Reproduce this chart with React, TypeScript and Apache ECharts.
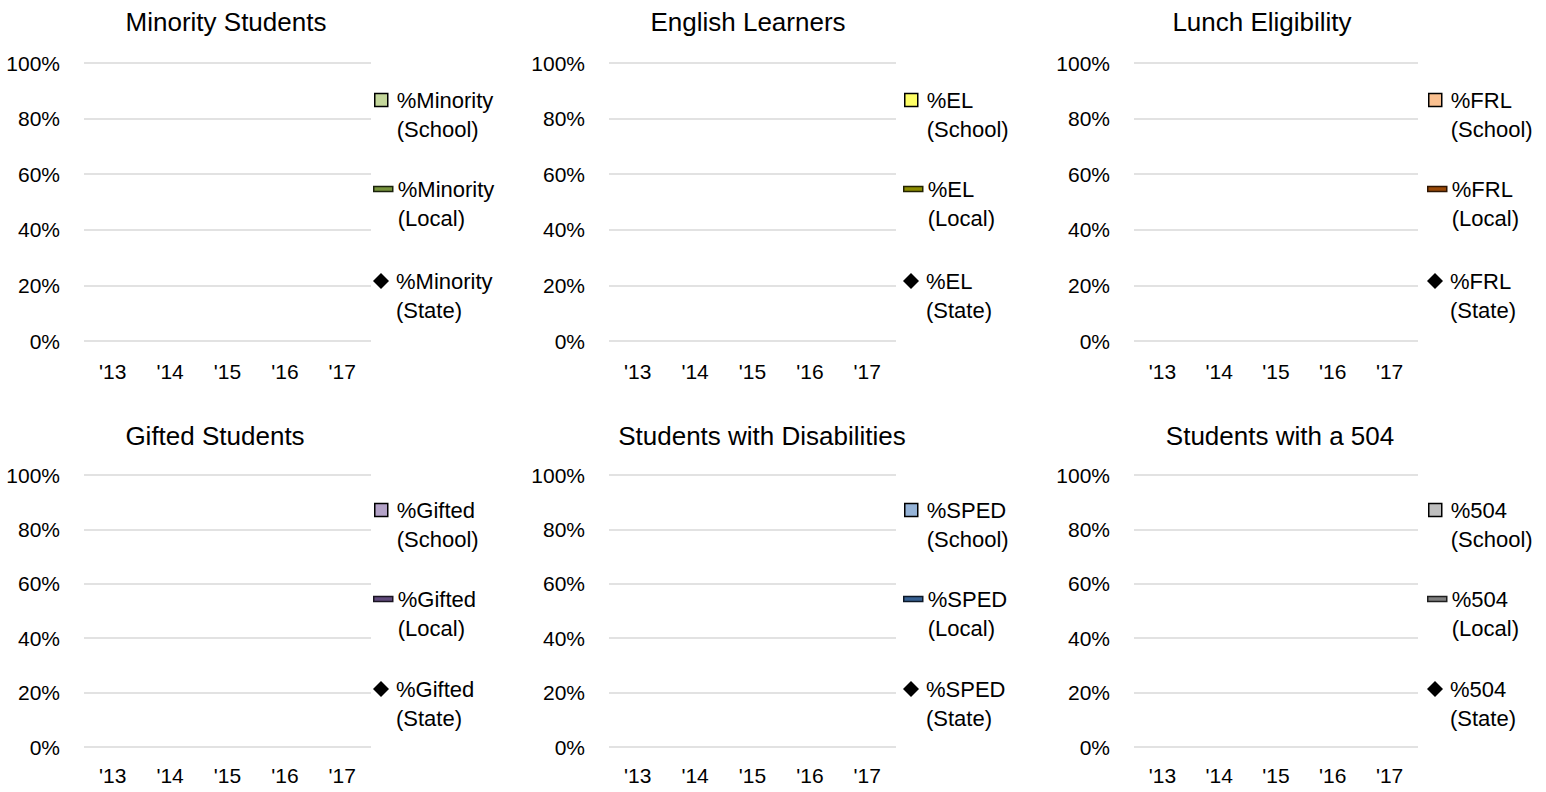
import React, { useEffect, useRef } from "react";
import * as echarts from "echarts";

const years = ["'13", "'14", "'15", "'16", "'17"];

const panelTitles = [
  "Minority Students", "English Learners", "Lunch Eligibility",
  "Gifted Students", "Students with Disabilities", "Students with a 504",
];
const measureNames = ["%Minority", "%EL", "%FRL", "%Gifted", "%SPED", "%504"];
const levelNames = ["(School)", "(Local)", "(State)"];

// No values are shown in the chart: every year is empty
const minoritySchool: (number | null)[] = [null, null, null, null, null];
const minorityLocal: (number | null)[] = [null, null, null, null, null];
const minorityState: (number | null)[] = [null, null, null, null, null];
const elSchool: (number | null)[] = [null, null, null, null, null];
const elLocal: (number | null)[] = [null, null, null, null, null];
const elState: (number | null)[] = [null, null, null, null, null];
const frlSchool: (number | null)[] = [null, null, null, null, null];
const frlLocal: (number | null)[] = [null, null, null, null, null];
const frlState: (number | null)[] = [null, null, null, null, null];
const giftedSchool: (number | null)[] = [null, null, null, null, null];
const giftedLocal: (number | null)[] = [null, null, null, null, null];
const giftedState: (number | null)[] = [null, null, null, null, null];
const spedSchool: (number | null)[] = [null, null, null, null, null];
const spedLocal: (number | null)[] = [null, null, null, null, null];
const spedState: (number | null)[] = [null, null, null, null, null];
const s504School: (number | null)[] = [null, null, null, null, null];
const s504Local: (number | null)[] = [null, null, null, null, null];
const s504State: (number | null)[] = [null, null, null, null, null];

const panelData = [
  [minoritySchool, minorityLocal, minorityState],
  [elSchool, elLocal, elState],
  [frlSchool, frlLocal, frlState],
  [giftedSchool, giftedLocal, giftedState],
  [spedSchool, spedLocal, spedState],
  [s504School, s504Local, s504State],
];

const schoolFill = ["#C4D79B", "#FFFF66", "#FAC090", "#B3A2C7", "#95B3D7", "#BFBFBF"];
const localFill = ["#77933C", "#8C8C00", "#984807", "#604A7B", "#376092", "#7F7F7F"];
const localBorder = ["#1A220C", "#222200", "#2E1502", "#1A1422", "#0C1828", "#1F1F1F"];

const FONT = "'Liberation Sans Narrow', 'Arial Narrow', 'Liberation Sans', Arial, sans-serif";

const gridLeft = [84, 609, 1134];
const gridWidth = [287, 287, 284];
const gridTop = [63, 475];
const gridHeight = [278, 272];
const legendX = [373, 903, 1427];
const legendY = [[100, 189, 281], [510, 599, 689]];
const titleX = [[226, 748, 1262], [215, 762, 1280]];
const titleY = [22, 436];
const xLabelMargin = [20, 18];

export default function App() {
  const ref = useRef<HTMLDivElement>(null);
  useEffect(() => {
    if (!ref.current) return;
    const chart = echarts.init(ref.current, null, { renderer: "svg" });
    const grid: any[] = [];
    const xAxis: any[] = [];
    const yAxis: any[] = [];
    const series: any[] = [];
    const legend: any[] = [];
    const graphic: any[] = [];
    const LH = 29;
    for (let p = 0; p < 6; p++) {
      const r = Math.floor(p / 3);
      const c = p % 3;
      grid.push({ left: gridLeft[c], top: gridTop[r], width: gridWidth[c], height: gridHeight[r], containLabel: false });
      xAxis.push({
        type: "category", gridIndex: p, data: years, boundaryGap: true,
        axisLine: { show: false }, axisTick: { show: false },
        axisLabel: { color: "#000", fontFamily: FONT, fontSize: 21, margin: xLabelMargin[r] },
      });
      yAxis.push({
        type: "value", gridIndex: p, min: 0, max: 1, interval: 0.2,
        axisLine: { show: false }, axisTick: { show: false },
        axisLabel: {
          color: "#000", fontFamily: FONT, fontSize: 21, margin: 24,
          formatter: (v: number) => Math.round(v * 100) + "%",
        },
        splitLine: { show: true, lineStyle: { color: "#D9D9D9", width: 1.5 } },
      });
      const names = levelNames.map((l) => measureNames[p] + " " + l);
      series.push({
        type: "bar", name: names[0], xAxisIndex: p, yAxisIndex: p, data: panelData[p][0],
        itemStyle: { color: schoolFill[p], borderColor: "#000", borderWidth: 1.5 },
      });
      series.push({
        type: "line", name: names[1], xAxisIndex: p, yAxisIndex: p, data: panelData[p][1],
        lineStyle: { color: localFill[p], width: 4 }, itemStyle: { color: localFill[p] }, showSymbol: false,
      });
      series.push({
        type: "line", name: names[2], xAxisIndex: p, yAxisIndex: p, data: panelData[p][2],
        lineStyle: { width: 0 }, symbol: "diamond", symbolSize: 14, itemStyle: { color: "#000" },
      });
      const icons = [
        { icon: "rect", w: 13, h: 13, dx: 1, padL: 4, style: { color: schoolFill[p], borderColor: "#000", borderWidth: 1.5 } },
        { icon: "rect", w: 19, h: 5, dx: 0, padL: 0, style: { color: localFill[p], borderColor: localBorder[p], borderWidth: 1.5 } },
        { icon: "diamond", w: 16, h: 16, dx: 0, padL: 2, style: { color: "#000", borderWidth: 0 } },
      ];
      for (let k = 0; k < 3; k++) {
        const ic = icons[k];
        legend.push({
          show: true, orient: "vertical", padding: 0,
          left: legendX[c] + ic.dx, top: legendY[r][k] - (3 * LH) / 2,
          itemWidth: ic.w, itemHeight: ic.h, selectedMode: false,
          data: [{ name: names[k], icon: ic.icon, itemStyle: ic.style }],
          formatter: (n: string) => "\n" + n.replace(" ", "\n"),
          textStyle: { color: "#000", fontFamily: FONT, fontSize: 22, lineHeight: LH, padding: [0, 0, 0, ic.padL] },
        });
      }
      graphic.push({
        type: "text", x: titleX[r][c], y: titleY[r],
        style: { text: panelTitles[p], fill: "#000", font: `26px ${FONT}`, textAlign: "center", textVerticalAlign: "middle" },
      });
    }
    chart.setOption({ animation: false, backgroundColor: "#fff", grid, xAxis, yAxis, series, legend, graphic });
    return () => chart.dispose();
  }, []);
  return <div ref={ref} style={{ position: "fixed", left: 0, top: 0, width: 1546, height: 792 }} />;
}
